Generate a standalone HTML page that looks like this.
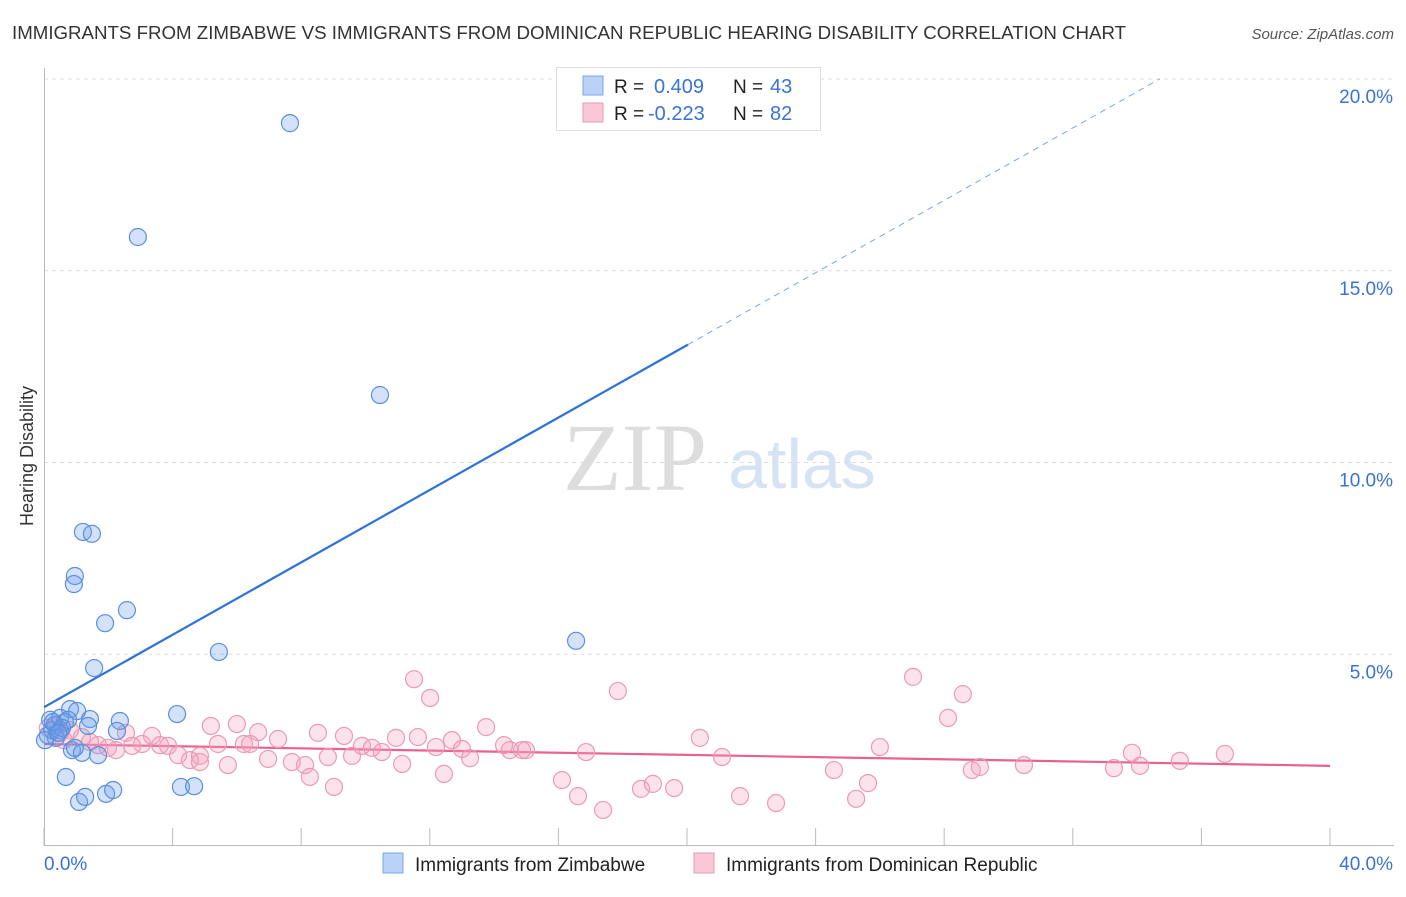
<!DOCTYPE html>
<html><head><meta charset="utf-8"><style>
body{margin:0;background:#fff;font-family:"Liberation Sans",sans-serif;}
</style></head><body>
<svg id="chart" width="1406" height="892" xmlns="http://www.w3.org/2000/svg" font-family="Liberation Sans, sans-serif">
<text x="12" y="39" font-size="18.7" fill="#333">IMMIGRANTS FROM ZIMBABWE VS IMMIGRANTS FROM DOMINICAN REPUBLIC HEARING DISABILITY CORRELATION CHART</text>
<text x="1394" y="39" font-size="15" fill="#555" text-anchor="end" font-style="italic">Source: ZipAtlas.com</text>
<text x="33" y="456" font-size="18" fill="#333" text-anchor="middle" transform="rotate(-90 33 456)">Hearing Disability</text>
<g><text x="635" y="490" font-size="96" fill="#ddd" text-anchor="middle" style="font-family:'Liberation Serif',serif">ZIP</text><text x="802" y="488" font-size="70" fill="#d5e3f5" text-anchor="middle">atlas</text></g>
<g id="grid"></g><g id="axes"></g><g id="trend"></g><g id="pts"></g>
<g>
<rect x="556.5" y="67.5" width="264" height="63" fill="#fff" stroke="#ddd"/>
<rect x="583" y="76" width="20" height="19" fill="#b9d2f5" stroke="#7aa6e6"/>
<rect x="583" y="103" width="20" height="19" fill="#f9c7d6" stroke="#eb9ab5"/>
<text x="614" y="93" font-size="19" fill="#222">R =</text><text x="654" y="93" font-size="20" fill="#3a73d4">0.409</text>
<text x="733" y="93" font-size="19" fill="#222">N =</text><text x="770" y="93" font-size="20" fill="#3a73d4">43</text>
<text x="614" y="120" font-size="19" fill="#222">R =</text><text x="648" y="120" font-size="20" fill="#3a73d4">-0.223</text>
<text x="733" y="120" font-size="19" fill="#222">N =</text><text x="770" y="120" font-size="20" fill="#3a73d4">82</text>
</g>
<g>
<rect x="383" y="853" width="20" height="20" fill="#b9d2f5" stroke="#7aa6e6"/>
<text x="415" y="871" font-size="19" fill="#222">Immigrants from Zimbabwe</text>
<rect x="694" y="853" width="20" height="20" fill="#f9c7d6" stroke="#eb9ab5"/>
<text x="726" y="871" font-size="19" fill="#222">Immigrants from Dominican Republic</text>
</g>
</svg>
<script>
const yTicks=[5,10,15,20];
const yTickLabels=["5.0%","10.0%","15.0%","20.0%"];
const xTicks=[0,4,8,12,16,20,24,28,32,36,40];
const xEndLabels=["0.0%","40.0%"];
const blueX=[7.65,2.92,10.45,1.21,1.49,0.96,0.93,2.58,1.90,5.44,16.55,1.56,4.14,0.81,1.03,1.43,2.36,1.37,2.27,0.19,0.34,0.50,0.65,0.12,0.25,0.75,0.87,1.18,1.68,0.96,0.68,1.09,1.28,1.93,2.15,4.26,4.67,0.50,0.37,0.56,0.03,0.28,0.44];
const blueY=[18.85,15.88,11.76,8.19,8.14,7.04,6.83,6.15,5.81,5.06,5.35,4.64,3.44,3.57,3.52,3.31,3.26,3.13,3.00,3.29,3.16,3.34,3.23,2.89,3.02,3.29,2.50,2.43,2.37,2.56,1.80,1.15,1.28,1.36,1.46,1.54,1.56,3.02,2.82,3.08,2.76,3.23,2.95];
const pinkX=[11.51,12.01,17.85,27.03,28.58,28.12,13.75,5.19,6.00,6.66,8.52,9.33,10.95,11.63,12.69,20.40,26.00,33.84,36.73,2.55,3.36,3.05,1.68,2.24,2.74,3.86,4.17,4.54,4.85,5.41,6.22,6.41,5.72,6.97,7.28,7.71,8.12,8.27,8.83,9.02,9.58,9.89,10.20,10.51,11.14,12.19,12.44,13.00,13.25,14.31,14.49,14.87,14.99,16.86,16.11,16.61,17.39,18.57,18.94,19.60,21.09,21.65,22.77,24.57,25.26,25.63,28.86,29.11,30.48,33.28,34.09,35.33,0.37,0.50,0.81,0.62,1.18,1.43,0.12,1.99,4.85,3.61];
const pinkY=[4.35,3.86,4.04,4.41,3.96,3.34,3.10,3.13,3.18,2.97,2.95,2.87,2.82,2.84,2.76,2.82,2.58,2.43,2.40,2.95,2.87,2.66,2.63,2.50,2.61,2.61,2.37,2.24,2.19,2.66,2.66,2.66,2.11,2.27,2.79,2.19,2.11,1.80,2.32,1.54,2.35,2.61,2.56,2.45,2.14,2.58,1.88,2.53,2.29,2.63,2.50,2.50,2.50,2.45,1.72,1.30,0.94,1.49,1.62,1.51,2.32,1.30,1.12,1.98,1.23,1.64,1.98,2.06,2.11,2.03,2.09,2.22,3.13,2.95,3.02,2.76,2.84,2.71,3.08,2.56,2.35,2.63];
const blueTrend=[3.62,0.472]; // intercept, slope
const pinkTrend=[2.66,-0.01425];
const NS="http://www.w3.org/2000/svg";
const X=v=>44+v*32.15, Y=v=>846-v*38.35;
function mk(t,a,p){const e=document.createElementNS(NS,t);for(const k in a)e.setAttribute(k,a[k]);document.getElementById(p).appendChild(e);return e;}
yTicks.forEach((t,i)=>{
 const l=mk('line',{x1:44,x2:1394,y1:Y(t),y2:Y(t),stroke:'#ddd','stroke-dasharray':'4,4'},'grid');
 
 
 const tx=mk('text',{x:1393,y:Y(t)+24,'font-size':19,fill:'#3a73d4','text-anchor':'end'},'grid');tx.textContent=yTickLabels[i];
 
 
});
const ya=mk('line',{x1:44.5,x2:44.5,y1:68,y2:846,stroke:'#bbb'},'axes');


const xa=mk('line',{x1:44,x2:1394,y1:845.5,y2:845.5,stroke:'#bbb'},'axes');


xTicks.forEach(t=>{const l=mk('line',{x1:X(t),x2:X(t),y1:828,y2:846,stroke:'#bbb'},'axes');
 
 });
[[0,'start'],[40,'end']].forEach((d,i)=>{const t=mk('text',{x:i?1393:44,y:870,'font-size':19,fill:'#3a73d4','text-anchor':d[1]},'axes');t.textContent=xEndLabels[i];
 
 });
const bf=x=>blueTrend[0]+blueTrend[1]*x;
const bl=mk('line',{x1:X(0),y1:Y(bf(0)),x2:X(20.03),y2:Y(bf(20.03)),stroke:'#2e72d8','stroke-width':2.2},'trend');


const xEnd=(20.0-blueTrend[0])/blueTrend[1];
const bd=mk('line',{x1:X(20.03),y1:Y(bf(20.03)),x2:X(xEnd),y2:Y(bf(xEnd)),stroke:'#7aa6e6','stroke-width':1,'stroke-dasharray':'6,5'},'trend');


const pf=x=>pinkTrend[0]+pinkTrend[1]*x;
const pl=mk('line',{x1:X(0),y1:Y(pf(0)),x2:X(40),y2:Y(pf(40)),stroke:'#e8628f','stroke-width':2.2},'trend');


pinkX.forEach((x,i)=>{const c=mk('circle',{cx:X(x),cy:Y(pinkY[i]),r:8.5,fill:'rgba(245,160,190,0.3)',stroke:'#eb9ab5','stroke-width':1.2},'pts');
 
 });
blueX.forEach((x,i)=>{const c=mk('circle',{cx:X(x),cy:Y(blueY[i]),r:8.5,fill:'rgba(110,160,235,0.3)',stroke:'#5b8fdd','stroke-width':1.2},'pts');
 
 });
</script>
</body></html>
